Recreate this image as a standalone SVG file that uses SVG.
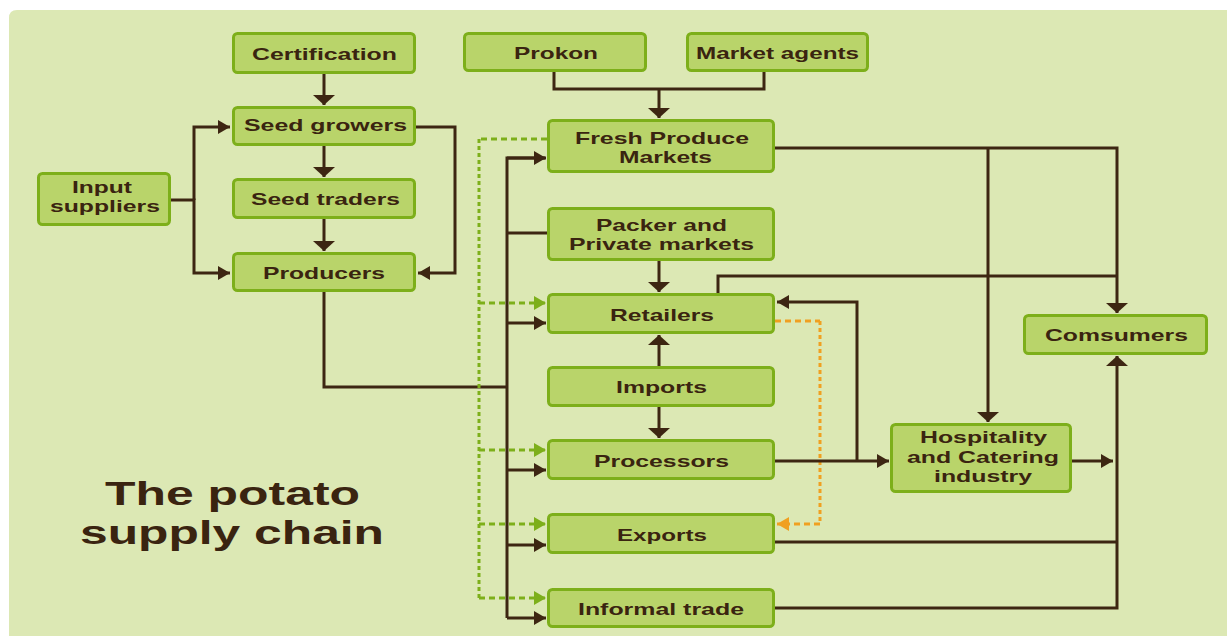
<svg xmlns="http://www.w3.org/2000/svg" width="1227" height="636" viewBox="0 0 1227 636">
<style>
.bx{fill:#b9d46a;stroke:#7daf1a;stroke-width:3}
.lb{font-family:"Liberation Sans",Arial,sans-serif;font-weight:bold;font-size:17px;fill:#3a2410}
.tt{font-family:"Liberation Sans",Arial,sans-serif;font-weight:bold;font-size:33px;fill:#3a2410}
.ln{fill:none;stroke:#3d2612;stroke-width:3}
.gd{fill:none;stroke:#7daf1a;stroke-width:3;stroke-dasharray:6 4}
.gv{fill:none;stroke:#7daf1a;stroke-width:3;stroke-dasharray:4 3}
.od{fill:none;stroke:#f0a020;stroke-width:3;stroke-dasharray:6 4}
</style>
<defs>
<marker id="ah" markerUnits="userSpaceOnUse" markerWidth="14" markerHeight="16" refX="12" refY="7" orient="auto"><path d="M0,0 L12,7 L0,14 Z" fill="#3d2612"/></marker>
<marker id="av" markerUnits="userSpaceOnUse" markerWidth="12" markerHeight="24" refX="10" refY="11" orient="auto"><path d="M0,0 L10,11 L0,22 Z" fill="#3d2612"/></marker>
<marker id="ag" markerUnits="userSpaceOnUse" markerWidth="14" markerHeight="16" refX="12" refY="7" orient="auto"><path d="M0,0 L12,7 L0,14 Z" fill="#7daf1a"/></marker>
<marker id="ao" markerUnits="userSpaceOnUse" markerWidth="14" markerHeight="16" refX="12" refY="7" orient="auto"><path d="M0,0 L12,7 L0,14 Z" fill="#f0a020"/></marker>
</defs>
<rect x="0" y="0" width="1227" height="636" fill="#ffffff"/>
<path d="M9,636 V18 Q9,10 17,10 H1227 V636 Z" fill="#dce8b4"/>

<g id="connectors">
<path class="ln" d="M324,74 V105" marker-end="url(#av)"/>
<path class="ln" d="M324,146 V177" marker-end="url(#av)"/>
<path class="ln" d="M324,219 V251" marker-end="url(#av)"/>
<path class="ln" d="M194,200 V127 H230" marker-end="url(#ah)"/>
<path class="ln" d="M171,200 H194 V273 H230" marker-end="url(#ah)"/>
<path class="ln" d="M416,127 H455 V273 H418" marker-end="url(#ah)"/>
<path class="ln" d="M324,292 V387 H507"/>
<path class="ln" d="M554,72 V89 H764 V72"/>
<path class="ln" d="M659,89 V118" marker-end="url(#av)"/>
<path class="ln" d="M545,158 H507 V618"/>
<path class="ln" d="M507,158 H546" marker-end="url(#ah)"/>
<path class="ln" d="M507,233 H547"/>
<path class="ln" d="M507,323 H546" marker-end="url(#ah)"/>
<path class="ln" d="M507,470 H546" marker-end="url(#ah)"/>
<path class="ln" d="M507,545 H546" marker-end="url(#ah)"/>
<path class="ln" d="M507,618 H546" marker-end="url(#ah)"/>
<path class="gd" d="M547,139 H479"/>
<path class="gv" d="M479,139 V598"/>
<path class="gd" d="M479,303 H546" marker-end="url(#ag)"/>
<path class="gd" d="M479,450 H546" marker-end="url(#ag)"/>
<path class="gd" d="M479,524 H546" marker-end="url(#ag)"/>
<path class="gd" d="M479,598 H546" marker-end="url(#ag)"/>
<path class="ln" d="M659,261 V292" marker-end="url(#av)"/>
<path class="ln" d="M659,366 V335" marker-end="url(#av)"/>
<path class="ln" d="M659,407 V438" marker-end="url(#av)"/>
<path class="od" d="M775,321 H820"/>
<path class="gv" style="stroke:#f0a020" d="M820,321 V524"/>
<path class="od" d="M820,524 H777" marker-end="url(#ao)"/>
<path class="ln" d="M775,148 H1117 V313" marker-end="url(#av)"/>
<path class="ln" d="M988,148 V422" marker-end="url(#av)"/>
<path class="ln" d="M718,293 V276 H1117"/>
<path class="ln" d="M775,461 H889" marker-end="url(#ah)"/>
<path class="ln" d="M857,461 V302 H777" marker-end="url(#ah)"/>
<path class="ln" d="M1072,461 H1113" marker-end="url(#ah)"/>
<path class="ln" d="M775,542 H1117"/>
<path class="ln" d="M775,608 H1117 V356" marker-end="url(#av)"/>
</g>

<g id="certification"><rect class="bx" x="233.5" y="33.5" width="181" height="39" rx="4"/><text class="lb" x="252" y="60" textLength="145" lengthAdjust="spacingAndGlyphs">Certification</text></g>
<g id="seed-growers"><rect class="bx" x="233.5" y="107.5" width="181" height="37" rx="4"/><text class="lb" x="244" y="131" textLength="163" lengthAdjust="spacingAndGlyphs">Seed growers</text></g>
<g id="seed-traders"><rect class="bx" x="233.5" y="179.5" width="181" height="38" rx="4"/><text class="lb" x="251" y="205" textLength="149" lengthAdjust="spacingAndGlyphs">Seed traders</text></g>
<g id="producers"><rect class="bx" x="233.5" y="253.5" width="181" height="37" rx="4"/><text class="lb" x="263" y="279" textLength="122" lengthAdjust="spacingAndGlyphs">Producers</text></g>
<g id="input-suppliers"><rect class="bx" x="38.5" y="173.5" width="131" height="51" rx="4"/><text class="lb" x="72" y="193" textLength="60" lengthAdjust="spacingAndGlyphs">Input</text><text class="lb" x="50" y="212" textLength="110" lengthAdjust="spacingAndGlyphs">suppliers</text></g>
<g id="prokon"><rect class="bx" x="464.5" y="33.5" width="181" height="37" rx="4"/><text class="lb" x="514" y="59" textLength="84" lengthAdjust="spacingAndGlyphs">Prokon</text></g>
<g id="market-agents"><rect class="bx" x="687.5" y="33.5" width="180" height="37" rx="4"/><text class="lb" x="696" y="59" textLength="163" lengthAdjust="spacingAndGlyphs">Market agents</text></g>
<g id="fresh-produce"><rect class="bx" x="548.5" y="120.5" width="225" height="51" rx="4"/><text class="lb" x="575" y="144" textLength="174" lengthAdjust="spacingAndGlyphs">Fresh Produce</text><text class="lb" x="619" y="163" textLength="93" lengthAdjust="spacingAndGlyphs">Markets</text></g>
<g id="packer"><rect class="bx" x="548.5" y="208.5" width="225" height="51" rx="4"/><text class="lb" x="596" y="231" textLength="131" lengthAdjust="spacingAndGlyphs">Packer and</text><text class="lb" x="569" y="250" textLength="185" lengthAdjust="spacingAndGlyphs">Private markets</text></g>
<g id="retailers"><rect class="bx" x="548.5" y="294.5" width="225" height="38" rx="4"/><text class="lb" x="610" y="321" textLength="104" lengthAdjust="spacingAndGlyphs">Retailers</text></g>
<g id="imports"><rect class="bx" x="548.5" y="367.5" width="225" height="38" rx="4"/><text class="lb" x="616" y="393" textLength="91" lengthAdjust="spacingAndGlyphs">Imports</text></g>
<g id="processors"><rect class="bx" x="548.5" y="440.5" width="225" height="38" rx="4"/><text class="lb" x="594" y="467" textLength="135" lengthAdjust="spacingAndGlyphs">Processors</text></g>
<g id="exports"><rect class="bx" x="548.5" y="514.5" width="225" height="38" rx="4"/><text class="lb" x="617" y="541" textLength="90" lengthAdjust="spacingAndGlyphs">Exports</text></g>
<g id="informal-trade"><rect class="bx" x="548.5" y="589.5" width="225" height="37" rx="4"/><text class="lb" x="578" y="615" textLength="166" lengthAdjust="spacingAndGlyphs">Informal trade</text></g>
<g id="consumers"><rect class="bx" x="1024.5" y="315.5" width="182" height="38" rx="4"/><text class="lb" x="1045" y="341" textLength="143" lengthAdjust="spacingAndGlyphs">Comsumers</text></g>
<g id="hospitality"><rect class="bx" x="891.5" y="424.5" width="179" height="67" rx="4"/><text class="lb" x="920" y="443" textLength="127" lengthAdjust="spacingAndGlyphs">Hospitality</text><text class="lb" x="907" y="463" textLength="152" lengthAdjust="spacingAndGlyphs">and Catering</text><text class="lb" x="934" y="482" textLength="98" lengthAdjust="spacingAndGlyphs">industry</text></g>
<g id="title"><text class="tt" x="105" y="505" textLength="255" lengthAdjust="spacingAndGlyphs">The potato</text><text class="tt" x="80" y="544" textLength="304" lengthAdjust="spacingAndGlyphs">supply chain</text></g>
</svg>
